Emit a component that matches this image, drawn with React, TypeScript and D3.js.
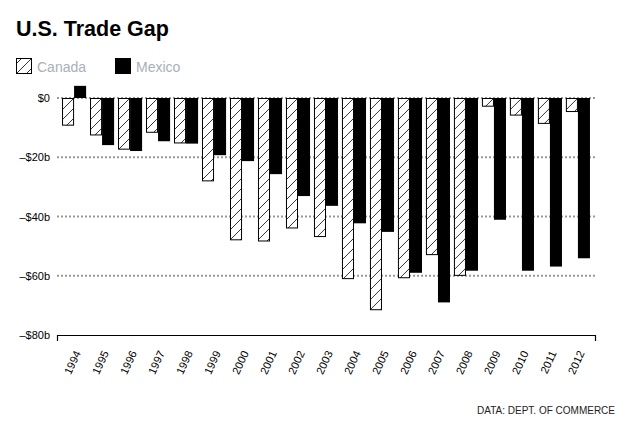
import { useEffect, useRef } from 'react';
import * as d3 from 'd3';

const years = ['1994', '1995', '1996', '1997', '1998', '1999', '2000', '2001', '2002', '2003',
  '2004', '2005', '2006', '2007', '2008', '2009', '2010', '2011', '2012'];
const canada = [-9.0, -12.3, -17.1, -11.4, -15.0, -27.8, -47.7, -48.1, -43.7, -46.6,
  -60.8, -71.3, -60.5, -52.7, -59.7, -2.6, -5.6, -8.4, -4.4];
const mexico = [4.1, -15.9, -17.9, -14.6, -15.4, -19.3, -21.3, -25.7, -33.1, -36.4,
  -42.3, -45.2, -59.0, -69.0, -58.3, -41.1, -58.3, -56.9, -54.1];
const series = ['Canada', 'Mexico'];
const gridTicks = [0, -20, -40, -60];
const yTicks = [0, -20, -40, -60, -80];

const fmt = (v: number) => (v === 0 ? '$0' : `–$${Math.abs(v)}b`);

export default function App() {
  const svgRef = useRef<SVGSVGElement>(null);

  useEffect(() => {
    if (!svgRef.current) return;
    const width = 630;
    const height = 430;
    const left = 57, right = 595, top = 98, bottom = 335;

    d3.select(svgRef.current).selectAll('*').remove();
    const svg = d3.select(svgRef.current).attr('width', width).attr('height', height);
    const font = '"Liberation Sans", Arial, Helvetica, sans-serif';

    const defs = svg.append('defs');
    const pat = defs.append('pattern')
      .attr('id', 'hatch')
      .attr('patternUnits', 'userSpaceOnUse')
      .attr('width', 10)
      .attr('height', 10);
    pat.append('rect').attr('width', 10).attr('height', 10).attr('fill', '#fff');
    pat.append('path').attr('d', 'M0,10 L10,0').attr('stroke', '#000').attr('stroke-width', 0.8);

    const x0 = d3.scaleBand<string>()
      .domain(years)
      .range([left, right])
      .paddingInner(0.14)
      .paddingOuter(0.18);
    const x1 = d3.scaleBand<string>()
      .domain(series)
      .range([0, x0.bandwidth()]);
    const y = d3.scaleLinear().domain([-80, 0]).range([bottom, top]);

    // title
    svg.append('text')
      .attr('x', 16).attr('y', 36)
      .style('font-family', font).style('font-size', '21.5px').style('font-weight', 'bold')
      .text('U.S. Trade Gap');

    // legend
    const legend = svg.append('g');
    const legendX = [16, 115];
    series.forEach((s, i) => {
      legend.append('rect')
        .attr('x', legendX[i] + 0.5).attr('y', 58.5)
        .attr('width', 15).attr('height', 15)
        .attr('fill', i === 0 ? 'url(#hatch)' : '#000')
        .attr('stroke', '#000').attr('stroke-width', 1);
      legend.append('text')
        .attr('x', legendX[i] + 21).attr('y', 72)
        .style('font-family', font).style('font-size', '14px')
        .style('fill', '#a9b0b8')
        .text(s);
    });

    // gridlines
    svg.append('g').selectAll('line')
      .data(gridTicks)
      .join('line')
      .attr('x1', left).attr('x2', right)
      .attr('y1', d => y(d)).attr('y2', d => y(d))
      .attr('stroke', '#999').attr('stroke-width', 2)
      .attr('stroke-dasharray', '2,2');

    // y labels
    svg.append('g').selectAll('text')
      .data(yTicks)
      .join('text')
      .attr('x', 50).attr('y', d => y(d) + 4)
      .attr('text-anchor', 'end')
      .style('font-family', font).style('font-size', '11px')
      .text(d => fmt(d));

    // bars
    const groups = svg.append('g').selectAll('g')
      .data(years)
      .join('g')
      .attr('transform', d => `translate(${x0(d)},0)`);

    groups.append('rect')
      .attr('x', x1('Canada')! + 0.5)
      .attr('y', (_, i) => Math.min(y(canada[i]), y(0)) + 0.5)
      .attr('width', x1.bandwidth() - 1)
      .attr('height', (_, i) => Math.abs(y(canada[i]) - y(0)))
      .attr('fill', 'url(#hatch)')
      .attr('stroke', '#000').attr('stroke-width', 1);

    groups.append('rect')
      .attr('x', x1('Mexico')!)
      .attr('y', (_, i) => Math.min(y(mexico[i]), y(0)))
      .attr('width', x1.bandwidth())
      .attr('height', (_, i) => Math.abs(y(mexico[i]) - y(0)))
      .attr('fill', '#000');

    // x axis
    const xAxis = svg.append('g')
      .attr('transform', `translate(0,${bottom})`)
      .call(d3.axisBottom(x0).tickSize(0).tickSizeOuter(6).tickPadding(0));
    xAxis.select('.domain').attr('stroke', '#000').attr('stroke-width', 1.2);
    xAxis.selectAll('text')
      .attr('text-anchor', 'end')
      .attr('dy', null)
      .attr('y', null)
      .attr('transform', 'translate(7,18) rotate(-65)')
      .style('font-family', font).style('font-size', '11px');

    // source
    svg.append('text')
      .attr('x', 615).attr('y', 414)
      .attr('text-anchor', 'end')
      .style('font-family', font).style('font-size', '10px')
      .style('fill', '#222')
      .text('DATA: DEPT. OF COMMERCE');
  }, []);

  return (
    <div style={{ position: 'absolute', left: 0, top: 0 }}>
      <svg ref={svgRef}></svg>
    </div>
  );
}
